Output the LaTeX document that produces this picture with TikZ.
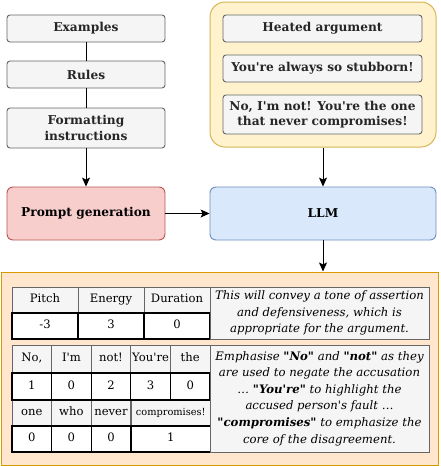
\documentclass[tikz,border=0pt]{standalone}
\usepackage{fontspec}
\setmainfont{DejaVu Serif}[Ligatures=TeXOff]
\usepackage{tikz}
\usetikzlibrary{arrows.meta}

\definecolor{grayfill}{HTML}{F5F5F5}
\definecolor{grayline}{HTML}{666666}
\definecolor{redfill}{HTML}{F8CECC}
\definecolor{redline}{HTML}{B85450}
\definecolor{bluefill}{HTML}{DAE8FC}
\definecolor{blueline}{HTML}{6C8EBF}
\definecolor{yellowfill}{HTML}{FFF2CC}
\definecolor{yellowline}{HTML}{D6B656}
\definecolor{orangefill}{HTML}{FFE6CC}
\definecolor{orangeline}{HTML}{D79B00}

\tikzset{
  gbox/.style={draw=grayline, fill=grayfill, rounded corners=3pt, line width=0.9pt,
    inner sep=0pt, align=center, text=black!85,
    font=\bfseries\fontsize{12.2}{15.5}\selectfont},
  bigbox/.style={rounded corners=6pt, line width=0.9pt, inner sep=0pt,
    font=\bfseries\fontsize{12.2}{15.5}\selectfont},
  hcell/.style={draw=grayline, fill=grayfill, line width=0.8pt, inner sep=0pt,
    text height=0.75em, text depth=0.22em, font=\fontsize{11.6}{13}\selectfont},
  vcell/.style={draw=black, fill=white, line width=1.2pt, inner sep=0pt,
    text height=0.75em, text depth=0.22em, font=\fontsize{11.6}{13}\selectfont},
  note/.style={draw=grayline, fill=grayfill, line width=0.9pt, inner sep=0pt,
    align=center, font=\itshape\fontsize{11.7}{16.6}\selectfont},
  flow/.style={line width=1pt, -{Stealth[length=9pt,width=8pt,inset=2pt]}}
}

\begin{document}
\begin{tikzpicture}[x=1pt, y=-1pt]
  \useasboundingbox (0,0) rectangle (440,466);
  % Prompt parts
  \node[gbox, minimum width=158, minimum height=27] (examples) at (86,28.5) {Examples};
  \node[gbox, minimum width=158, minimum height=27] (rules) at (86,74.5) {Rules};
  \node[gbox, minimum width=158, minimum height=40] (formatting) at (86,128) {Formatting\\instructions};
  \draw[line width=1pt] (examples) -- (rules);
  \draw[line width=1pt] (rules) -- (formatting);
  \node[bigbox, draw=redline, fill=redfill, minimum width=158, minimum height=53] (prompt) at (86,213.5) {Prompt generation};
  \draw[flow] (formatting) -- (prompt);
  % Dialogue
  \node[draw=yellowline, fill=yellowfill, rounded corners=15pt, line width=1pt,
    minimum width=226, minimum height=145] (dialogue) at (323,74.5) {};
  \node[gbox, minimum width=199, minimum height=27] (topic) at (322.5,28.5) {Heated argument};
  \node[gbox, minimum width=199, minimum height=27] (turn1) at (322.5,68.5) {You're always so stubborn!};
  \node[gbox, minimum width=199, minimum height=39] (turn2) at (322.5,114.5) {No, I'm not! You're the one\\that never compromises!};
  \node[bigbox, draw=blueline, fill=bluefill, minimum width=226, minimum height=53] (llm) at (323,213.5) {LLM};
  \draw[flow] (dialogue) -- (llm);
  \draw[flow] (prompt) -- (llm);
  % Output
  \node[draw=orangeline, fill=orangefill, line width=1pt,
    minimum width=437, minimum height=193] (output) at (219.5,368.5) {};
  \draw[flow] (llm) -- (llm.south |- output.north);
  % Utterance-level scores
  \foreach \t [count=\i] in {Pitch, Energy, Duration} {
    \node[hcell, minimum width=66, minimum height=26] (h\i) at (12+66*\i-33,300) {\t};
  }
  \foreach \v [count=\i] in {-3, 3, 0} {
    \node[vcell, minimum width=66, minimum height=26] (s\i) at (12+66*\i-33,326) {\v};
  }
  \node[note, minimum width=219, minimum height=52] (reason1) at (319.5,313)
    {This will convey a tone of assertion\\and defensiveness, which is\\appropriate for the argument.};
  % Word-level emphasis
  \foreach \t [count=\i] in {{No,}, I'm, not!, You're, the} {
    \node[hcell, minimum width=39.6, minimum height=28] (w\i) at (12+39.6*\i-19.8,359) {\t};
  }
  \foreach \t [count=\i] in {one, who, never} {
    \node[hcell, minimum width=39.6, minimum height=26] (u\i) at (12+39.6*\i-19.8,413) {\t};
  }
  \node[hcell, minimum width=79.2, minimum height=26, font=\fontsize{9.8}{11}\selectfont] (u4) at (170.8,413) {compromises!};
  \foreach \v [count=\i] in {1, 0, 2, 3, 0} {
    \node[vcell, minimum width=39.6, minimum height=27] (e\i) at (12+39.6*\i-19.8,386.5) {\v};
  }
  \foreach \v [count=\i] in {0, 0, 0} {
    \node[vcell, minimum width=39.6, minimum height=26] (f\i) at (12+39.6*\i-19.8,439) {\v};
  }
  \node[vcell, minimum width=79.2, minimum height=26] (f4) at (170.8,439) {1};
  \node[note, minimum width=219, minimum height=107] (reason2) at (319.5,398.5)
    {Emphasise \textbf{"No"} and \textbf{"not"} as they\\are used to negate the accusation\\\dots{} \textbf{"You're"} to highlight the\\accused person's fault \dots\\\textbf{"compromises"} to emphasize the\\core of the disagreement.};
\end{tikzpicture}
\end{document}
